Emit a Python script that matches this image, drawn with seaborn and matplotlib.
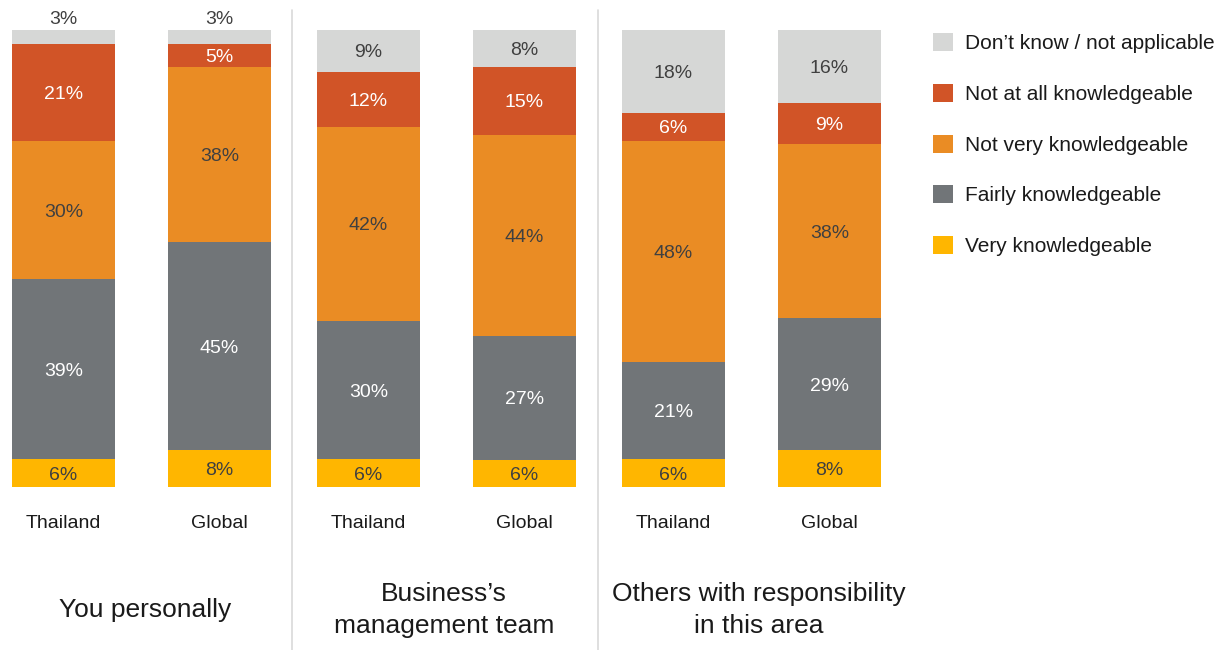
import numpy as np
import pandas as pd
import matplotlib
matplotlib.use("Agg")
import matplotlib.pyplot as plt
from matplotlib.patches import Patch
import seaborn as sns

# Survey responses (% of respondents) per bar
groups = ["You personally", "Business\u2019s\nmanagement team", "Others with responsibility\nin this area"]
regions = ["Thailand", "Global"]
very = [6, 8, 6, 6, 6, 8]
fairly = [39, 45, 30, 27, 21, 29]
not_very = [30, 38, 42, 44, 48, 38]
not_at_all = [21, 5, 12, 15, 6, 9]
dont_know = [3, 3, 9, 8, 18, 16]

levels = ["Very knowledgeable", "Fairly knowledgeable", "Not very knowledgeable",
          "Not at all knowledgeable", "Don\u2019t know / not applicable"]
values = [very, fairly, not_very, not_at_all, dont_know]
colors = ["#FFB600", "#717578", "#EA8C24", "#D15427", "#D6D7D6"]
label_colors = ["#404040", "#FFFFFF", "#404040", "#FFFFFF", "#404040"]

sns.set_theme(style="white")
plt.rcParams["font.family"] = ["Liberation Sans", "DejaVu Sans"]

W, H = 1227, 650
fig = plt.figure(figsize=(W / 100, H / 100), dpi=100)
ax = fig.add_axes([0, 0, 1, 1])

# bar centres in pixel units along x; y measured as share of each bar (100% stacked)
x_pos = np.array([63.5, 219.5, 368.5, 524.5, 673.5, 829.5])
title_x = [145, 444, 759]
px_per_pct = 4.57
base_px = 487
nudge = 2 / px_per_pct  # small downward shift so text sits optically centred

raw = np.array(values, dtype=float)
share = raw / raw.sum(axis=0) * 100
cum = np.cumsum(share, axis=0)
df = pd.DataFrame({"x": x_pos})
for i in range(len(levels) - 1, -1, -1):
    df["top"] = cum[i]
    sns.barplot(data=df, x="x", y="top", native_scale=True, color=colors[i],
                saturation=1, width=103 / 149, linewidth=0, errorbar=None, ax=ax)

ax.set_xlim(0, W)
ax.set_ylim(-(H - base_px) / px_per_pct, base_px / px_per_pct)
ax.axis("off")

# segment labels
for i, vals in enumerate(values):
    for j, v in enumerate(vals):
        top = cum[i][j]
        if v <= 3:
            y = cum[-1][j] + 12 / px_per_pct
            col = "#404040"
        else:
            y = top - share[i][j] / 2
            col = label_colors[i]
        ax.text(x_pos[j], y - nudge, f"{v}%", ha="center", va="center", fontsize=14, color=col)

# region labels under each bar
for j, xp in enumerate(x_pos):
    ax.text(xp, -(521 - base_px) / px_per_pct - nudge, regions[j % 2], ha="center",
            va="center", fontsize=14, color="#1A1A1A")

# group titles
for g, title in enumerate(groups):
    ax.text(title_x[g], -(608 - base_px) / px_per_pct - nudge, title, ha="center",
            va="center", fontsize=19, color="#1A1A1A", linespacing=1.42)

# vertical separators between groups
for xs in [292, 598]:
    ax.plot([xs, xs], [-(H - base_px) / px_per_pct, (base_px - 10) / px_per_pct],
            color="#D9D9D9", lw=1.2, clip_on=False)

handles = [Patch(facecolor=colors[i], edgecolor="none", label=levels[i])
           for i in range(len(levels) - 1, -1, -1)]
fig.legend(handles=handles, loc="upper left", bbox_to_anchor=(933 / W, 1 - 33 / H),
           frameon=False, fontsize=15, handlelength=0.95, handleheight=0.95,
           handletextpad=0.58, labelspacing=1.47, borderpad=0, borderaxespad=0,
           labelcolor="#1A1A1A")

fig.savefig("out.png", dpi=100, facecolor="white")
